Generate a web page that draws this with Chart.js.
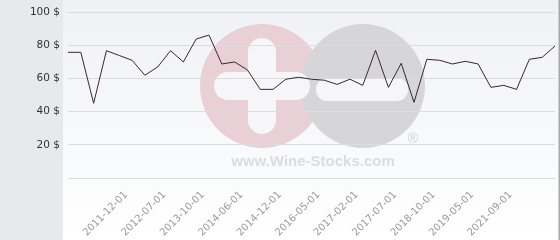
<!DOCTYPE html>
<html>
<head>
<meta charset="utf-8">
<script src="https://cdn.jsdelivr.net/npm/chart.js@4.4.0/dist/chart.umd.min.js"></script>
<style>
html,body{margin:0;padding:0;background:#fff;}
#wrap{width:560px;height:240px;position:relative;}
</style>
</head>
<body>
<div id="wrap"><canvas id="c" width="560" height="240"></canvas></div>
<script>
// Categories (only the dated ticks are legible in the reference; others left blank)
const dates = [
  "", "", "", "", "", "2011-12-01", "", "", "2012-07-01", "", "",
  "2013-10-01", "", "", "2014-06-01", "", "", "2014-12-01", "", "",
  "2016-05-01", "", "", "2017-02-01", "", "", "2017-07-01", "", "",
  "2018-10-01", "", "", "2019-05-01", "", "", "2021-09-01", "", "", ""
];
// Price series ($)
const prices = [
  75.7, 75.7, 45.0, 76.7, 73.8, 70.9, 61.9, 66.9, 76.7, 69.9,
  83.7, 86.1, 68.7, 69.9, 65.1, 53.4, 53.4, 59.5, 60.7, 59.5,
  58.9, 56.4, 59.5, 55.8, 76.9, 54.6, 69.1, 45.6, 71.5, 70.9,
  68.7, 70.3, 68.7, 54.6, 55.8, 53.4, 71.5, 72.7, 79.5
];
// Y tick values
const yTicks = [20, 40, 60, 80, 100];

const bgPlugin = {
  id: 'bg',
  beforeDraw(chart) {
    const ctx = chart.ctx;
    const W = chart.width, H = chart.height;
    ctx.save();
    const g = ctx.createLinearGradient(0, 0, 0, H);
    g.addColorStop(0, '#eff1f5');
    g.addColorStop(1, '#ffffff');
    ctx.fillStyle = g;
    ctx.fillRect(63, 0, W - 63, H);
    ctx.fillStyle = '#e6eaed';
    ctx.fillRect(0, 0, 63, H);
    ctx.fillStyle = '#a8a8a8';
    ctx.fillRect(W - 1.5, 0, 1.5, H);

    // watermark
    ctx.fillStyle = '#e9cfd6';
    ctx.beginPath(); ctx.arc(262, 86, 62, 0, Math.PI * 2); ctx.fill();
    ctx.fillStyle = '#d6d6d8';
    ctx.beginPath(); ctx.arc(363, 86, 62, 0, Math.PI * 2); ctx.fill();
    ctx.fillStyle = '#f6f6f9';
    const rr = (x, y, w, h, r) => { ctx.beginPath(); ctx.roundRect(x, y, w, h, r); ctx.fill(); };
    rr(248, 38, 28, 96, 14);
    rr(214, 72, 96, 28, 14);
    rr(316, 78, 92, 23, 11);
    ctx.fillStyle = '#dcdcdc';
    ctx.font = 'bold 15px "Liberation Sans", Arial, sans-serif';
    ctx.textAlign = 'center';
    ctx.textBaseline = 'alphabetic';
    ctx.fillText('www.Wine-Stocks.com', 313, 166);
    ctx.font = '14px "Liberation Sans", Arial, sans-serif';
    ctx.fillStyle = '#d0d0d0';
    ctx.fillText('\u00AE', 413, 143);
    ctx.restore();
  }
};

new Chart(document.getElementById('c'), {
  type: 'line',
  data: {
    labels: dates,
    datasets: [{
      data: prices,
      borderColor: '#3b2530',
      borderWidth: 1,
      pointRadius: 0,
      tension: 0,
      fill: false
    }]
  },
  options: {
    responsive: false,
    animation: false,
    devicePixelRatio: 1,
    layout: { padding: { top: 12, right: 5, left: 0, bottom: 0 } },
    plugins: { legend: { display: false }, tooltip: { enabled: false } },
    scales: {
      x: {
        offset: false,
        grid: { display: false, drawTicks: false },
        border: { display: false },
        ticks: {
          autoSkip: false,
          minRotation: 45,
          maxRotation: 45,
          padding: 11,
          labelOffset: -6,
          color: '#9a9a9a',
          font: { family: '"DejaVu Sans"', size: 10 },
          callback(v, i) { return dates[i]; }
        },
        afterFit(s) { s.height = 62; s.paddingLeft = 0; s.paddingRight = 0; }
      },
      y: {
        min: 0,
        max: 100,
        afterBuildTicks(s) { s.ticks = [0].concat(yTicks).map(v => ({ value: v })); },
        grid: { color: '#dcdcdc', lineWidth: 1, drawTicks: false },
        border: { display: false },
        ticks: {
          padding: 8,
          color: '#333333',
          font: { family: '"DejaVu Sans"', size: 10.5 },
          callback(v) { return v === 0 ? '' : v + ' $'; }
        },
        afterFit(s) { s.width = 68; s.paddingTop = 0; s.paddingBottom = 0; }
      }
    }
  },
  plugins: [bgPlugin]
});
</script>
</body>
</html>
